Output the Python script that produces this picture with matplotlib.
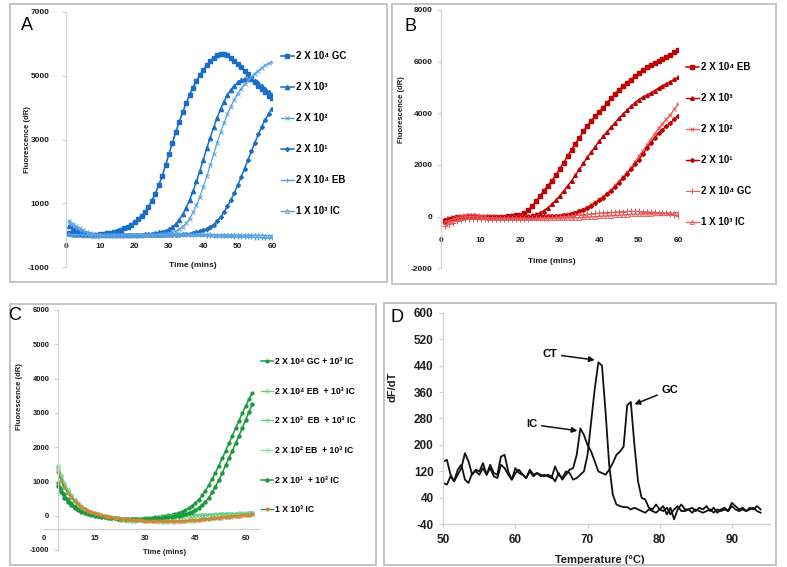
import numpy as np
import matplotlib
matplotlib.use('Agg')
import matplotlib.pyplot as plt
from matplotlib.patches import Rectangle

plt.rcParams['font.family'] = ['Liberation Sans', 'DejaVu Sans']
plt.rcParams['font.weight'] = 'bold'
plt.rcParams['axes.labelweight'] = 'bold'
plt.rcParams['axes.unicode_minus'] = False

# ---------------- data ----------------
minutes = list(range(1, 61))

a_labels = ['2 X 10⁴ GC', '2 X 10³', '2 X 10²', '2 X 10¹', '2 X 10⁴ EB', '1 X 10³ IC']
a_gc = [80, 60, 40, 20, 10, 5, 5, 10, 15, 25,
        40, 55, 75, 100, 130, 165, 210, 265, 330, 410,
        500, 610, 730, 890, 1080, 1300, 1560, 1850, 2190, 2550,
        2900, 3240, 3560, 3860, 4140, 4400, 4630, 4840, 5020, 5180,
        5330, 5460, 5570, 5650, 5690, 5690, 5640, 5560, 5460, 5370,
        5270, 5160, 5040, 4920, 4800, 4690, 4580, 4480, 4380, 4290]
a_1e3 = [300, 230, 170, 120, 80, 50, 30, 15, 5, 0,
         -5, -10, -10, -10, -10, -10, -5, -5, 0, 0,
         5, 10, 20, 35, 50, 65, 85, 110, 140, 180,
         250, 350, 480, 650, 860, 1100, 1380, 1690, 2020, 2370,
         2720, 3060, 3380, 3680, 3950, 4190, 4390, 4560, 4690, 4790,
         4860, 4900, 4910, 4890, 4840, 4770, 4690, 4600, 4500, 4400]
a_1e2 = [450, 360, 280, 210, 150, 100, 65, 40, 20, 10,
         5, 0, 0, 0, -5, -5, -5, -5, 0, 0,
         0, 5, 5, 10, 10, 15, 20, 30, 40, 60,
         90, 130, 190, 270, 370, 520, 710, 940, 1210, 1510,
         1840, 2190, 2540, 2890, 3220, 3520, 3790, 4030, 4250, 4440,
         4600, 4740, 4860, 4970, 5070, 5160, 5250, 5330, 5390, 5440]
a_1e1 = [50, 40, 30, 20, 10, 5, 0, 0, 0, 0,
         0, 0, 0, 0, 0, 0, 0, 0, 0, 0,
         0, 0, 0, 0, 0, 5, 5, 5, 10, 10,
         10, 15, 15, 20, 25, 40, 60, 85, 115, 150,
         190, 250, 330, 430, 560, 720, 900, 1100, 1320, 1560,
         1820, 2090, 2360, 2630, 2900, 3160, 3400, 3620, 3810, 3970]
a_eb = [380, 300, 230, 170, 120, 80, 50, 25, 10, 0,
        -5, -10, -10, -10, -10, -5, -5, 0, 0, 0,
        0, 5, 5, 5, 5, 5, 5, 5, 5, 5,
        5, 5, 5, 0, 0, 0, -5, -5, -10, -10,
        -15, -20, -20, -25, -30, -30, -35, -40, -45, -50,
        -55, -60, -65, -70, -75, -80, -85, -90, -95, -100]
a_ic = [20, 15, 10, 5, 0, -5, -10, -10, -10, -10,
        -10, -10, -5, -5, 0, 0, 0, 5, 5, 5,
        10, 10, 10, 10, 15, 15, 15, 15, 20, 20,
        20, 20, 20, 20, 20, 20, 20, 20, 20, 20,
        20, 20, 15, 15, 15, 10, 10, 10, 5, 5,
        0, 0, -5, -5, -10, -10, -10, -15, -15, -20]

b_labels = ['2 X 10⁴ EB', '2 X 10³', '2 X 10²', '2 X 10¹', '2 X 10⁴ GC', '1 X 10³ IC']
b_eb = [-150, -100, -60, -30, -10, 0, 10, 10, 5, 0,
        -5, -5, -5, -5, 0, 5, 15, 30, 50, 80,
        150, 260, 400, 590, 800, 1000, 1190, 1390, 1610, 1840,
        2090, 2340, 2590, 2830, 3060, 3300, 3520, 3710, 3880, 4040,
        4220, 4410, 4590, 4750, 4910, 5050, 5180, 5300, 5430, 5560,
        5670, 5780, 5880, 5950, 6010, 6090, 6180, 6260, 6360, 6460]
b_1e3 = [-120, -80, -50, -30, -20, -10, -10, -10, -10, -15,
         -20, -20, -25, -25, -30, -30, -30, -30, -25, -20,
         -10, 20, 50, 90, 150, 230, 340, 480, 630, 800,
         990, 1190, 1390, 1600, 1830, 2060, 2290, 2500, 2710, 2920,
         3110, 3290, 3460, 3640, 3810, 3970, 4120, 4270, 4400, 4530,
         4620, 4700, 4780, 4880, 4980, 5060, 5150, 5230, 5320, 5400]
b_1e2 = [-100, -60, -30, 0, 30, 50, 60, 60, 50, 40,
         30, 20, 10, 0, -10, -20, -25, -30, -30, -30,
         -30, -30, -25, -20, -10, 0, 10, 20, 35, 50,
         80, 110, 150, 190, 230, 290, 370, 470, 570, 670,
         800, 920, 1050, 1210, 1380, 1550, 1720, 1890, 2110, 2340,
         2550, 2760, 2980, 3200, 3430, 3600, 3780, 3950, 4160, 4370]
b_1e1 = [-130, -90, -60, -40, -25, -15, -10, -10, -10, -10,
         -10, -10, -10, -15, -15, -15, -15, -15, -10, -10,
         -10, -5, 0, 5, 10, 15, 20, 25, 30, 30,
         50, 80, 110, 150, 200, 260, 330, 410, 510, 630,
         740, 860, 990, 1150, 1310, 1480, 1650, 1830, 2020, 2210,
         2420, 2640, 2850, 3040, 3240, 3370, 3500, 3630, 3770, 3910]
b_gc = [-380, -300, -230, -170, -130, -110, -100, -100, -100, -100,
        -100, -100, -100, -100, -100, -100, -100, -95, -90, -85,
        -80, -75, -70, -65, -60, -50, -40, -30, -20, -10,
        0, 15, 30, 45, 60, 80, 95, 110, 125, 140,
        150, 160, 170, 180, 190, 195, 200, 205, 205, 200,
        195, 190, 180, 170, 160, 145, 125, 100, 70, 40]
b_ic = [-200, -150, -100, -60, -30, -10, 0, 0, -10, -20,
        -30, -40, -45, -50, -50, -55, -55, -60, -60, -60,
        -65, -65, -70, -70, -70, -70, -70, -65, -65, -60,
        -55, -50, -45, -40, -35, -30, -20, -10, 0, 10,
        20, 30, 40, 50, 60, 70, 80, 90, 100, 105,
        110, 115, 120, 125, 130, 135, 140, 145, 150, 150]

c_minutes = list(range(4, 63))
c_labels = ['2 X 10⁴ GC + 10³ IC', '2 X 10⁴ EB  + 10³ IC', '2 X 10³  EB  + 10³ IC',
            '2 X 10² EB  + 10³ IC', '2 X 10¹  + 10³ IC', '1 X 10³ IC']
c_gc = [960, 800, 620, 480, 370, 280, 200, 140, 100, 70,
        45, 25, 5, -15, -35, -50, -60, -70, -80, -90,
        -100, -105, -105, -100, -95, -85, -75, -65, -55, -45,
        -35, -20, -5, 10, 30, 55, 85, 120, 165, 220,
        290, 370, 470, 590, 730, 890, 1070, 1260, 1460, 1670,
        1890, 2110, 2330, 2550, 2770, 2990, 3200, 3400, 3580]
c_eb4 = [1450, 1180, 950, 760, 600, 470, 360, 270, 200, 140,
         95, 55, 25, 0, -20, -40, -55, -70, -85, -100,
         -115, -125, -130, -130, -120, -105, -90, -75, -60, -50,
         -40, -30, -25, -20, -15, -10, -5, 0, 5, 10,
         15, 20, 20, 25, 30, 30, 35, 40, 45, 45,
         50, 55, 60, 60, 65, 70, 70, 75, 75]
c_eb3 = [1400, 1120, 900, 720, 570, 450, 345, 260, 195, 140,
         95, 60, 30, 5, -15, -35, -55, -75, -95, -115,
         -130, -145, -150, -145, -135, -120, -100, -85, -70, -60,
         -55, -50, -45, -40, -35, -30, -25, -20, -15, -10,
         -5, 0, 5, 10, 15, 20, 25, 30, 35, 40,
         45, 50, 50, 55, 55, 60, 60, 65, 65]
c_eb2 = [1300, 1050, 850, 690, 550, 440, 340, 260, 200, 150,
         110, 75, 45, 20, 0, -20, -40, -55, -70, -85,
         -95, -105, -115, -125, -135, -140, -150, -155, -160, -165,
         -170, -170, -175, -175, -175, -170, -170, -165, -160, -155,
         -150, -140, -130, -120, -110, -100, -90, -80, -70, -60,
         -50, -40, -30, -20, -10, 0, 10, 20, 30]
c_1e1 = [860, 680, 520, 400, 300, 220, 160, 110, 75, 45,
         20, 0, -20, -35, -50, -60, -70, -80, -90, -95,
         -100, -105, -105, -100, -100, -95, -90, -85, -80, -75,
         -70, -60, -50, -40, -25, -10, 5, 25, 50, 80,
         120, 170, 230, 310, 410, 530, 680, 850, 1040, 1250,
         1470, 1680, 1890, 2110, 2330, 2560, 2790, 3030, 3260]
c_ic = [1280, 1030, 830, 670, 540, 430, 335, 255, 195, 145,
        105, 70, 40, 15, -5, -25, -45, -60, -75, -90,
        -100, -110, -120, -125, -130, -135, -140, -145, -150, -150,
        -155, -155, -160, -160, -160, -155, -150, -145, -140, -135,
        -130, -125, -115, -105, -95, -85, -75, -65, -55, -45,
        -35, -25, -15, -5, 0, 10, 20, 30, 40]

d_temps = list(np.arange(50.0, 94.01, 0.5))
d_ic_gc = [150, 155, 110, 90, 110, 130, 175, 150, 110, 125,
           120, 145, 110, 140, 115, 110, 165, 170, 120, 95,
           130, 115, 110, 100, 125, 110, 115, 110, 105, 110,
           105, 90, 115, 95, 110, 125, 130, 170, 250, 230,
           200, 180, 150, 120, 115, 110, 125, 145, 170, 180,
           195, 320, 330, 200, 90, 40, 35, 10, 5, 20,
           5, 15, -10, 10, -25, 5, 20, 5, 5, 10,
           0, 10, 5, 15, 0, 10, -5, 5, 10, 0,
           25, 15, 5, 10, 0, 10, 5, 15, 5]
d_ct = [85, 80, 105, 90, 125, 140, 95, 85, 115, 120,
        110, 130, 110, 130, 105, 100, 140, 130, 110, 95,
        115, 125, 110, 100, 120, 105, 115, 105, 110, 105,
        100, 135, 110, 100, 120, 115, 95, 100, 110, 120,
        170, 270, 370, 450, 440, 300, 140, 50, 20, 15,
        12, 12, 5, 10, 5, 0, -5, 5, 0, -5,
        5, 0, 10, -10, 5, 15, 0, 0, 5, -5,
        5, 0, -5, 0, 5, -5, 5, 0, 5, 0,
        15, 5, 0, 5, 0, 5, 10, 0, -5]

# ---------------- layout helpers ----------------
W, H = 787, 567
fig = plt.figure(figsize=(7.87, 5.67), dpi=100)
fig.patch.set_facecolor('white')


def rect(l, r, t, b):
    return [l / W, 1 - b / H, (r - l) / W, (b - t) / H]


def box(l, r, t, b):
    fig.add_artist(Rectangle((l / W, 1 - b / H), (r - l) / W, (b - t) / H,
                             transform=fig.transFigure, fill=False,
                             ec='#c4c4c4', lw=1.4))


AX = '#d0d0d0'
TXT = '#1e1e1e'


def base_style(ax):
    for s in ['top', 'right']:
        ax.spines[s].set_visible(False)
    for s in ['left', 'bottom']:
        ax.spines[s].set_color(AX)
        ax.spines[s].set_linewidth(0.9)
    ax.set_facecolor('none')


box(10, 387, 4, 282)
box(392, 776, 4, 284)
box(10, 376, 304, 565)
box(384, 776, 303, 565)

# ---------------- Panel A ----------------
axA = fig.add_axes(rect(66, 272, 12, 267))
base_style(axA)
dark_b, light_b = '#1b6ec8', '#5aa2e0'
axA.plot(minutes, a_gc, color=dark_b, marker='s', ms=3, lw=1.2, label=a_labels[0])
axA.plot(minutes, a_1e3, color=dark_b, marker='^', ms=3, lw=1.1, label=a_labels[1])
axA.plot(minutes, a_1e2, color=light_b, marker='x', ms=3.5, mew=0.7, lw=0.9, label=a_labels[2])
axA.plot(minutes, a_1e1, color=dark_b, marker='D', ms=2, lw=1.1, label=a_labels[3])
axA.plot(minutes, a_eb, color=light_b, marker='|', ms=3.5, lw=1.0, ls='-', label=a_labels[4])
axA.plot(minutes, a_ic, color=light_b, marker='^', ms=3, mfc='none', mew=0.6, lw=1.0, label=a_labels[5])
axA.set_xlim(0, 60)
axA.set_ylim(-1000, 7000)
axA.set_xticks(range(0, 61, 10))
axA.set_yticks([-1000, 1000, 3000, 5000, 7000])
axA.spines['bottom'].set_position(('data', 0))
axA.spines['bottom'].set_visible(False)
axA.tick_params(axis='x', length=0, pad=6, labelsize=6, labelcolor=TXT)
axA.tick_params(axis='y', length=3, color=AX, pad=9, labelsize=6, labelcolor=TXT)
axA.set_ylabel('Fluorescence (dR)', fontsize=5.5, color=TXT)
axA.yaxis.set_label_coords(-0.171, 0.5)
axA.set_xlabel('Time (mins)', fontsize=6, color=TXT)
axA.xaxis.set_label_coords(0.617, 0.02)
axA.legend(loc='upper left', bbox_to_anchor=(281 / W, 1 - 51 / H), bbox_transform=fig.transFigure,
           frameon=False, fontsize=7, labelspacing=2.17, handlelength=1.3, handletextpad=0.25,
           borderpad=0, borderaxespad=0)
fig.text(26.7 / W, 1 - 25 / H, 'A', fontsize=13, fontweight='normal', ha='center', va='center')

# ---------------- Panel B ----------------
axB = fig.add_axes(rect(441, 678.3, 10, 268.3))
base_style(axB)
dark_r, light_r = '#c00000', '#e55a5a'
axB.plot(minutes, b_eb, color=dark_r, marker='s', ms=2.8, lw=1.1, label=b_labels[0])
axB.plot(minutes, b_1e3, color=dark_r, marker='^', ms=2.6, lw=1.0, label=b_labels[1])
axB.plot(minutes, b_1e2, color=light_r, marker='x', ms=3.5, mew=0.7, lw=0.9, label=b_labels[2])
axB.plot(minutes, b_1e1, color=dark_r, marker='D', ms=2, lw=1.0, label=b_labels[3])
axB.plot(minutes, b_gc, color=light_r, marker='+', ms=4, mew=0.7, lw=0.8, label=b_labels[4])
axB.plot(minutes, b_ic, color=light_r, marker='^', ms=3, mfc='none', mew=0.6, lw=0.9, label=b_labels[5])
axB.set_xlim(0, 60)
axB.set_ylim(-2000, 8000)
axB.set_xticks(range(0, 61, 10))
axB.set_yticks(range(-2000, 8001, 2000))
axB.spines['bottom'].set_position(('data', 0))
axB.spines['bottom'].set_visible(False)
axB.tick_params(axis='x', length=0, pad=15, labelsize=6, labelcolor=TXT)
axB.tick_params(axis='y', length=3, color=AX, pad=3, labelsize=6, labelcolor=TXT)
axB.set_ylabel('Fluorescence (dR)', fontsize=5.5, color=TXT)
axB.yaxis.set_label_coords(-0.152, 0.613)
axB.set_xlabel('Time (mins)', fontsize=6, color=TXT)
axB.xaxis.set_label_coords(0.467, 0.039)
axB.legend(loc='upper left', bbox_to_anchor=(686 / W, 1 - 62 / H), bbox_transform=fig.transFigure,
           frameon=False, fontsize=7, labelspacing=2.17, handlelength=1.3, handletextpad=0.25,
           borderpad=0, borderaxespad=0)
fig.text(410 / W, 1 - 26.7 / H, 'B', fontsize=13, fontweight='normal', ha='center', va='center')

# ---------------- Panel C ----------------
axC = fig.add_axes(rect(44.3, 259.1, 310, 550))
base_style(axC)
dark_g, light_g = '#1a9a3c', '#62cf80'
axC.plot(c_minutes, c_gc, color=dark_g, marker='o', ms=2, lw=1.1, label=c_labels[0])
axC.plot(c_minutes, c_eb4, color=light_g, marker='o', ms=2.6, mfc='none', mew=0.5, lw=0.9, label=c_labels[1])
axC.plot(c_minutes, c_eb3, color=light_g, marker='o', ms=2.6, mfc='none', mew=0.5, lw=0.9, label=c_labels[2])
axC.plot(c_minutes, c_eb2, color='#8ddca2', marker='o', ms=2.6, mfc='none', mew=0.5, lw=0.9, label=c_labels[3])
axC.plot(c_minutes, c_1e1, color=dark_g, marker='o', ms=2.2, lw=1.1, label=c_labels[4])
axC.plot(c_minutes, c_ic, color=dark_g, marker='o', ms=2, mfc='#d0883c', mec='#d0883c', lw=1.0, label=c_labels[5])
axC.set_xlim(0, 64)
axC.set_ylim(-1000, 6000)
axC.set_xticks([0, 15, 30, 45, 60])
axC.set_yticks(range(-1000, 6001, 1000))
axC.spines['left'].set_position(('data', 4))
axC.spines['bottom'].set_position(('data', -400))
axC.tick_params(axis='x', length=0, pad=4, labelsize=5.5, labelcolor=TXT)
axC.tick_params(axis='y', length=3, color=AX, pad=3, labelsize=5.5, labelcolor=TXT)
axC.set_ylabel('Fluorescence (dR)', fontsize=5.5, color=TXT)
axC.yaxis.set_label_coords(-0.098, 0.639)
axC.set_xlabel('Time (mins)', fontsize=5.5, color=TXT)
axC.xaxis.set_label_coords(0.562, 0.003)
axC.legend(loc='upper left', bbox_to_anchor=(261 / W, 1 - 357 / H), bbox_transform=fig.transFigure,
           frameon=False, fontsize=6.2, labelspacing=2.4, handlelength=1.4, handletextpad=0.2,
           borderpad=0, borderaxespad=0)
fig.text(15 / W, 1 - 315 / H, 'C', fontsize=13, fontweight='normal', ha='center', va='center')

# ---------------- Panel D ----------------
axD = fig.add_axes(rect(443.3, 770, 312.7, 524.3))
base_style(axD)
axD.plot(d_temps, d_ic_gc, color='#111111', lw=1.3)
axD.plot(d_temps, d_ct, color='#111111', lw=1.3)
axD.set_xlim(50, 95.3)
axD.set_ylim(-40, 600)
axD.set_xticks(range(50, 91, 10))
axD.set_yticks(range(-40, 601, 80))
axD.tick_params(axis='x', length=3, color=AX, pad=4, labelsize=8.5, labelcolor=TXT)
axD.tick_params(axis='y', length=3, color=AX, pad=4, labelsize=8.5, labelcolor=TXT)
axD.set_xlabel('Temperature (°C)', fontsize=8, color=TXT)
axD.xaxis.set_label_coords(0.48, -0.145)
axD.set_ylabel('dF/dT', fontsize=8, color=TXT)
axD.yaxis.set_label_coords(-0.139, 0.649)
arrow = dict(arrowstyle='-|>', color='#111111', lw=1.1, mutation_scale=8, shrinkA=1, shrinkB=0)
axD.annotate('CT', xy=(71.0, 457), xytext=(64.8, 475), fontsize=8, ha='center', va='center',
             arrowprops=arrow)
axD.annotate('IC', xy=(68.6, 243), xytext=(62.3, 262), fontsize=8, ha='center', va='center',
             arrowprops=arrow)
axD.annotate('GC', xy=(76.5, 323), xytext=(81.4, 366), fontsize=8, ha='center', va='center',
             arrowprops=arrow)
fig.text(397 / W, 1 - 318 / H, 'D', fontsize=13, fontweight='normal', ha='center', va='center')

fig.savefig('out.png', dpi=100, facecolor='white')
